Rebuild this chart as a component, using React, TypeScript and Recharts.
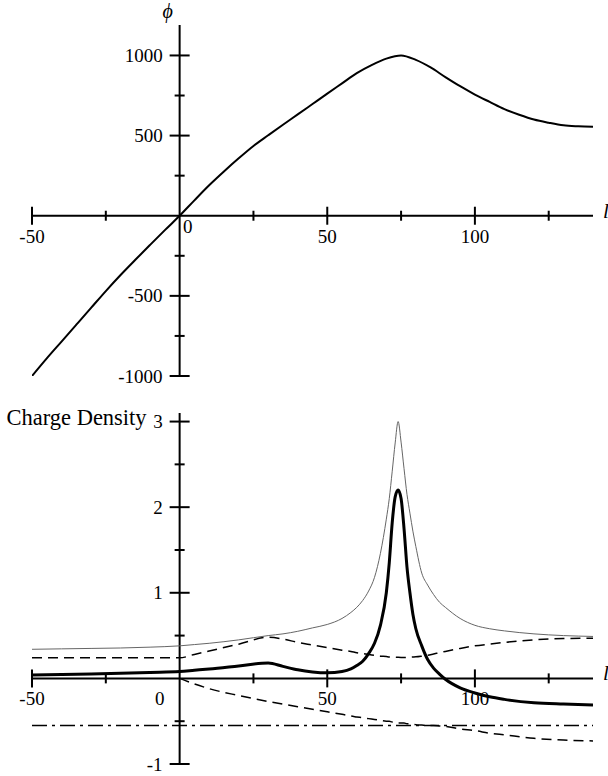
import React from 'react';
import { LineChart, Line, XAxis, YAxis, ReferenceLine, ReferenceDot } from 'recharts';

// top plot: potential phi against l
const lTop = [-50, -45, -40, -35, -30, -25, -20, -15, -10, -5, 0, 5, 10, 15, 20, 25, 30, 35, 40, 45, 50, 55, 60, 65, 70, 75, 80, 85, 90, 95, 100, 105, 110, 115, 120, 125, 130, 135, 140];
const phi = [-1000, -890, -785, -680, -575, -470, -370, -275, -182, -90, 0, 96, 190, 276, 358, 435, 502, 568, 632, 697, 762, 826, 890, 940, 980, 1000, 972, 925, 865, 808, 756, 710, 665, 630, 600, 580, 564, 558, 555];

// bottom plot: charge densities against l
const lBottom = [-50, -40, -30, -20, -10, 0, 5, 10, 20, 30, 35, 40, 45, 50, 55, 58, 60, 62, 64, 66, 68, 70, 71, 72, 73, 74, 75, 76, 77, 78, 79, 80, 82, 84, 86, 88, 90, 95, 100, 105, 110, 120, 130, 140];
const totalDensity = [0.34, 0.345, 0.35, 0.355, 0.365, 0.38, 0.395, 0.41, 0.45, 0.5, 0.52, 0.55, 0.59, 0.63, 0.7, 0.77, 0.83, 0.91, 1.02, 1.18, 1.46, 1.86, 2.1, 2.42, 2.75, 3.0, 2.76, 2.45, 2.15, 1.93, 1.72, 1.54, 1.23, 1.09, 0.98, 0.89, 0.83, 0.7, 0.62, 0.58, 0.555, 0.52, 0.5, 0.49];
const netDensity = [0.04, 0.045, 0.05, 0.06, 0.07, 0.08, 0.095, 0.11, 0.145, 0.18, 0.14, 0.1, 0.075, 0.065, 0.08, 0.11, 0.15, 0.2, 0.29, 0.41, 0.62, 1.0, 1.35, 1.82, 2.12, 2.2, 2.1, 1.75, 1.3, 1.0, 0.75, 0.58, 0.38, 0.22, 0.12, 0.05, -0.01, -0.11, -0.17, -0.215, -0.245, -0.285, -0.3, -0.31];
const upperDensity = [0.24, 0.24, 0.24, 0.24, 0.24, 0.24, 0.28, 0.32, 0.4, 0.48, 0.46, 0.42, 0.39, 0.36, 0.33, 0.315, 0.3, 0.29, 0.28, 0.27, 0.26, 0.255, 0.25, 0.25, 0.248, 0.246, 0.245, 0.245, 0.246, 0.248, 0.25, 0.252, 0.26, 0.27, 0.285, 0.3, 0.315, 0.35, 0.38, 0.4, 0.42, 0.45, 0.465, 0.47];
const lowerDensity = [null, null, null, null, null, 0, -0.065, -0.12, -0.2, -0.27, -0.3, -0.33, -0.36, -0.39, -0.42, -0.44, -0.45, -0.46, -0.47, -0.48, -0.49, -0.5, -0.5, -0.51, -0.51, -0.52, -0.52, -0.52, -0.53, -0.53, -0.535, -0.54, -0.545, -0.55, -0.55, -0.555, -0.56, -0.59, -0.61, -0.64, -0.66, -0.7, -0.72, -0.73];
const constDensity = [-0.55, -0.55, -0.55, -0.55, -0.55, -0.55, -0.55, -0.55, -0.55, -0.55, -0.55, -0.55, -0.55, -0.55, -0.55, -0.55, -0.55, -0.55, -0.55, -0.55, -0.55, -0.55, -0.55, -0.55, -0.55, -0.55, -0.55, -0.55, -0.55, -0.55, -0.55, -0.55, -0.55, -0.55, -0.55, -0.55, -0.55, -0.55, -0.55, -0.55, -0.55, -0.55, -0.55, -0.55];

// ticks
const xMajor = [-50, 50, 100];
const xMinor = [-25, 25, 75, 125];
const phiMajor = [-1000, -500, 500, 1000];
const phiMinor = [-750, -250, 250, 750];
const rhoMajor = [-1, 1, 2, 3];
const rhoMinor = [-0.5, 0.5, 1.5, 2.5];

const topData = lTop.map((l, i) => ({ l, phi: phi[i] }));
const bottomData = lBottom.map((l, i) => ({
  l,
  total: totalDensity[i],
  net: netDensity[i],
  upper: upperDensity[i],
  lower: lowerDensity[i],
  konst: constDensity[i],
}));

const font = 'Liberation Serif, Times New Roman, serif';

const xTick = (len: number, label?: string) => (p: any) => (
  <g>
    <line x1={p.cx} x2={p.cx} y1={p.cy - len} y2={p.cy + len} stroke="#000" strokeWidth={2} />
    {label && (
      <text x={p.cx} y={p.cy + 27} textAnchor="middle" fontFamily={font} fontSize={19} fill="#000">
        {label}
      </text>
    )}
  </g>
);

const yTick = (len: number, label?: string) => (p: any) => (
  <g>
    <line x1={p.cx - len} x2={p.cx + len} y1={p.cy} y2={p.cy} stroke="#000" strokeWidth={2} />
    {label && (
      <text x={p.cx - 17} y={p.cy + 6.5} textAnchor="end" fontFamily={font} fontSize={19} fill="#000">
        {label}
      </text>
    )}
  </g>
);

const textAt = (txt: string, dx: number, dy: number, anchor: string, size: number, italic = false) => (p: any) => (
  <text x={p.cx + dx} y={p.cy + dy} textAnchor={anchor} fontFamily={font} fontSize={size} fontStyle={italic ? 'italic' : 'normal'} fill="#000">
    {txt}
  </text>
);

export default function App() {
  return (
    <div style={{ position: 'absolute', left: 0, top: 0, width: 608, height: 776, background: '#fff' }}>
      <div style={{ position: 'absolute', left: 0, top: 0 }}>
        <LineChart width={608} height={400} data={topData} margin={{ top: 25, right: 15, bottom: 24, left: 32 }}>
          <XAxis dataKey="l" type="number" domain={[-50, 140]} allowDataOverflow hide />
          <YAxis type="number" domain={[-1000, 1190]} allowDataOverflow hide />
          <ReferenceLine y={0} stroke="#000" strokeWidth={2} />
          <ReferenceLine x={0} stroke="#000" strokeWidth={2} />
          {xMajor.map((v) => (
            <ReferenceDot key={'xM' + v} x={v} y={0} r={0} shape={xTick(9, String(v))} />
          ))}
          {xMinor.map((v) => (
            <ReferenceDot key={'xm' + v} x={v} y={0} r={0} shape={xTick(5)} />
          ))}
          {phiMajor.map((v) => (
            <ReferenceDot key={'yM' + v} x={0} y={v} r={0} shape={yTick(10, String(v))} />
          ))}
          {phiMinor.map((v) => (
            <ReferenceDot key={'ym' + v} x={0} y={v} r={0} shape={yTick(5)} />
          ))}
          <ReferenceDot x={0} y={0} r={0} shape={textAt('0', 8, 17, 'middle', 19)} />
          <ReferenceDot x={0} y={1190} r={0} shape={textAt('ϕ', -12, -7, 'middle', 20, true)} />
          <ReferenceDot x={140} y={0} r={0} shape={textAt('l', 10, 2, 'start', 21, true)} />
          <Line type="monotone" dataKey="phi" stroke="#000" strokeWidth={2} dot={false} isAnimationActive={false} />
        </LineChart>
      </div>
      <div style={{ position: 'absolute', left: 0, top: 400 }}>
        <LineChart width={608} height={376} data={bottomData} margin={{ top: 13, right: 15, bottom: 12, left: 32 }}>
          <XAxis dataKey="l" type="number" domain={[-50, 140]} allowDataOverflow hide />
          <YAxis type="number" domain={[-1, 3.1]} allowDataOverflow hide />
          <ReferenceLine y={0} stroke="#000" strokeWidth={2} />
          <ReferenceLine x={0} stroke="#000" strokeWidth={2} />
          {xMajor.map((v) => (
            <ReferenceDot key={'xM' + v} x={v} y={0} r={0} shape={xTick(9, String(v))} />
          ))}
          {xMinor.map((v) => (
            <ReferenceDot key={'xm' + v} x={v} y={0} r={0} shape={xTick(5)} />
          ))}
          {rhoMajor.map((v) => (
            <ReferenceDot key={'yM' + v} x={0} y={v} r={0} shape={yTick(10, String(v))} />
          ))}
          {rhoMinor.map((v) => (
            <ReferenceDot key={'ym' + v} x={0} y={v} r={0} shape={yTick(5)} />
          ))}
          <ReferenceDot x={0} y={0} r={0} shape={textAt('0', -20, 27, 'middle', 19)} />
          <ReferenceDot x={0} y={3} r={0} shape={textAt('Charge Density', -33, 3, 'end', 22.5)} />
          <ReferenceDot x={140} y={0} r={0} shape={textAt('l', 10, 2, 'start', 21, true)} />
          <Line type="monotone" dataKey="total" stroke="#666" strokeWidth={1} dot={false} isAnimationActive={false} />
          <Line type="monotone" dataKey="upper" stroke="#000" strokeWidth={1.5} strokeDasharray="10 6" dot={false} isAnimationActive={false} />
          <Line type="monotone" dataKey="lower" stroke="#000" strokeWidth={1.5} strokeDasharray="10 6" dot={false} isAnimationActive={false} />
          <Line type="monotone" dataKey="konst" stroke="#000" strokeWidth={1.5} strokeDasharray="15 5 3 5" dot={false} isAnimationActive={false} />
          <Line type="monotone" dataKey="net" stroke="#000" strokeWidth={3} dot={false} isAnimationActive={false} />
        </LineChart>
      </div>
    </div>
  );
}
